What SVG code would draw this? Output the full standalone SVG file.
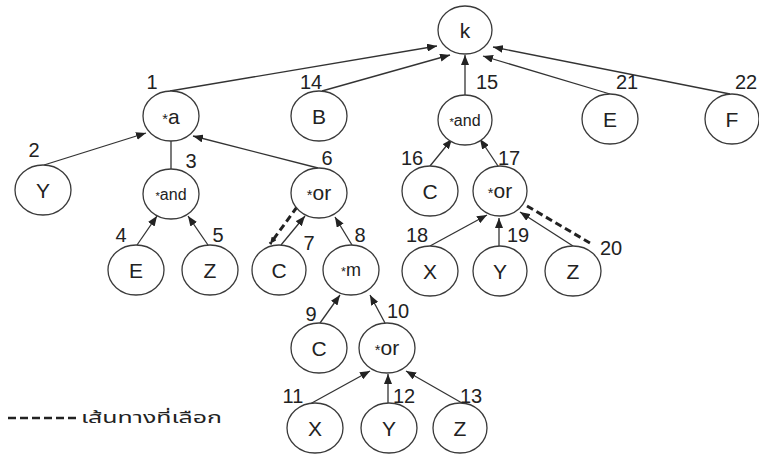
<svg xmlns="http://www.w3.org/2000/svg" width="759" height="458" viewBox="0 0 759 458">
<defs>
<marker id="arr" markerUnits="userSpaceOnUse" markerWidth="11" markerHeight="8" refX="10" refY="4" orient="auto"><path d="M0,0 L10,4 L0,8 z" fill="#222"/></marker>
<marker id="arrs" markerUnits="userSpaceOnUse" markerWidth="8" markerHeight="6" refX="7" refY="3" orient="auto"><path d="M0,0 L7,3 L0,6 z" fill="#222"/></marker>
<style>
.n ellipse{fill:#fff;stroke:#3a3a3a;stroke-width:1.3}
.n text{font-family:"Liberation Sans",Arial,sans-serif;font-size:21px;fill:#222;text-anchor:middle}
.n text.s{font-size:16px}
.n text.m{font-size:18px}
.n tspan.ast{font-size:0.7em}
.c line{stroke:#333;stroke-width:1.3}
.c line.a{marker-end:url(#arr)}
.c line.d{stroke:#222;stroke-width:3;stroke-dasharray:7 4}
.lb text{font-family:"Liberation Sans",Arial,sans-serif;font-size:20px;fill:#222;text-anchor:middle}
</style>
</defs>
<rect width="759" height="458" fill="#fff"/>
<g class="c" id="connectors">
<line class="a" x1="170" y1="91" x2="437" y2="46"/>
<line class="a" x1="322" y1="91" x2="450" y2="55"/>
<line class="a" x1="465" y1="95" x2="465" y2="55"/>
<line class="a" x1="610" y1="94" x2="483" y2="56"/>
<line class="a" x1="730" y1="94" x2="493" y2="47"/>
<line class="a" x1="44" y1="165" x2="146" y2="133"/>
<line x1="171" y1="169" x2="171" y2="141"/>
<line class="a" x1="318" y1="168" x2="193" y2="136"/>
<line class="a" x1="137" y1="245" x2="157" y2="216"/>
<line class="a" x1="208" y1="245" x2="188" y2="216"/>
<line class="a" x1="281" y1="245" x2="305" y2="216"/>
<line class="d" x1="297" y1="207" x2="270" y2="244" marker-end="url(#arrs)"/>
<line class="a" x1="352" y1="245" x2="335" y2="217"/>
<line class="a" x1="430" y1="166" x2="452" y2="139"/>
<line class="a" x1="498" y1="166" x2="480" y2="139"/>
<line class="a" x1="430" y1="246" x2="487" y2="215"/>
<line class="a" x1="499" y1="246" x2="499" y2="218"/>
<line class="a" x1="573" y1="246" x2="520" y2="212"/>
<line class="d" x1="527" y1="206" x2="590" y2="243"/>
<line class="a" x1="320" y1="323" x2="340" y2="295"/>
<line class="a" x1="385" y1="323" x2="370" y2="295"/>
<line class="a" x1="310" y1="404" x2="370" y2="371"/>
<line class="a" x1="388" y1="403" x2="388" y2="374"/>
<line class="a" x1="462" y1="403" x2="406" y2="371"/>
</g>
<g class="n" id="n-k"><ellipse cx="465" cy="30" rx="27" ry="24"/><text x="465" y="38">k</text></g>
<g class="n" id="n1"><ellipse cx="171" cy="116" rx="28" ry="25"/><text x="171" y="124"><tspan class="ast">*</tspan>a</text></g>
<g class="n" id="n14"><ellipse cx="319" cy="116" rx="28" ry="25"/><text x="319" y="124">B</text></g>
<g class="n" id="n15"><ellipse cx="465" cy="120" rx="27" ry="25"/><text class="s" x="465" y="126"><tspan class="ast">*</tspan>and</text></g>
<g class="n" id="n21"><ellipse cx="610" cy="119" rx="28" ry="25"/><text x="610" y="127">E</text></g>
<g class="n" id="n22"><ellipse cx="732" cy="119" rx="27" ry="25"/><text x="732" y="127">F</text></g>
<g class="n" id="n2"><ellipse cx="43" cy="190" rx="28" ry="25"/><text x="43" y="198">Y</text></g>
<g class="n" id="n3"><ellipse cx="171" cy="194" rx="28" ry="25"/><text class="s" x="171" y="200"><tspan class="ast">*</tspan>and</text></g>
<g class="n" id="n6"><ellipse cx="319" cy="193" rx="28" ry="25"/><text x="319" y="200"><tspan class="ast">*</tspan>or</text></g>
<g class="n" id="n16"><ellipse cx="430" cy="191" rx="28" ry="25"/><text x="430" y="199">C</text></g>
<g class="n" id="n17"><ellipse cx="500" cy="191" rx="27" ry="25"/><text x="500" y="198"><tspan class="ast">*</tspan>or</text></g>
<g class="n" id="n4"><ellipse cx="136" cy="270" rx="28" ry="25"/><text x="136" y="278">E</text></g>
<g class="n" id="n5"><ellipse cx="210" cy="270" rx="28" ry="25"/><text x="210" y="278">Z</text></g>
<g class="n" id="n7"><ellipse cx="279" cy="270" rx="27" ry="25"/><text x="279" y="278">C</text></g>
<g class="n" id="n8"><ellipse cx="351" cy="270" rx="28" ry="25"/><text class="m" x="351" y="276"><tspan class="ast">*</tspan>m</text></g>
<g class="n" id="n18"><ellipse cx="430" cy="271" rx="28" ry="25"/><text x="430" y="279">X</text></g>
<g class="n" id="n19"><ellipse cx="500" cy="271" rx="27" ry="25"/><text x="500" y="279">Y</text></g>
<g class="n" id="n20"><ellipse cx="573" cy="271" rx="28" ry="25"/><text x="573" y="279">Z</text></g>
<g class="n" id="n9"><ellipse cx="319" cy="348" rx="28" ry="25"/><text x="319" y="356">C</text></g>
<g class="n" id="n10"><ellipse cx="387" cy="348" rx="28" ry="25"/><text x="387" y="355"><tspan class="ast">*</tspan>or</text></g>
<g class="n" id="n11"><ellipse cx="315" cy="428" rx="28" ry="25"/><text x="315" y="436">X</text></g>
<g class="n" id="n12"><ellipse cx="389" cy="428" rx="28" ry="25"/><text x="389" y="436">Y</text></g>
<g class="n" id="n13"><ellipse cx="460" cy="428" rx="27" ry="25"/><text x="460" y="436">Z</text></g>
<g class="lb" id="labels">
<text x="152" y="89">1</text>
<text x="311" y="89">14</text>
<text x="487" y="89">15</text>
<text x="627" y="89">21</text>
<text x="746" y="89">22</text>
<text x="34" y="157">2</text>
<text x="191" y="168">3</text>
<text x="327" y="165">6</text>
<text x="121" y="242">4</text>
<text x="218" y="242">5</text>
<text x="309" y="250">7</text>
<text x="360" y="242">8</text>
<text x="412" y="165">16</text>
<text x="509" y="165">17</text>
<text x="417" y="242">18</text>
<text x="518" y="242">19</text>
<text x="611" y="255">20</text>
<text x="311" y="321">9</text>
<text x="398" y="318">10</text>
<text x="293" y="403">11</text>
<text x="404" y="403">12</text>
<text x="471" y="403">13</text>
</g>
<g id="legend">
<line x1="8" y1="418" x2="76" y2="418" stroke="#222" stroke-width="2.5" stroke-dasharray="8 4"/>
<text x="81" y="423" font-family="'Noto Sans Thai','Noto Sans','DejaVu Sans',sans-serif" font-size="15" fill="#222" textLength="141" lengthAdjust="spacingAndGlyphs">เส้นทางที่เลือก</text>
</g>
</svg>
